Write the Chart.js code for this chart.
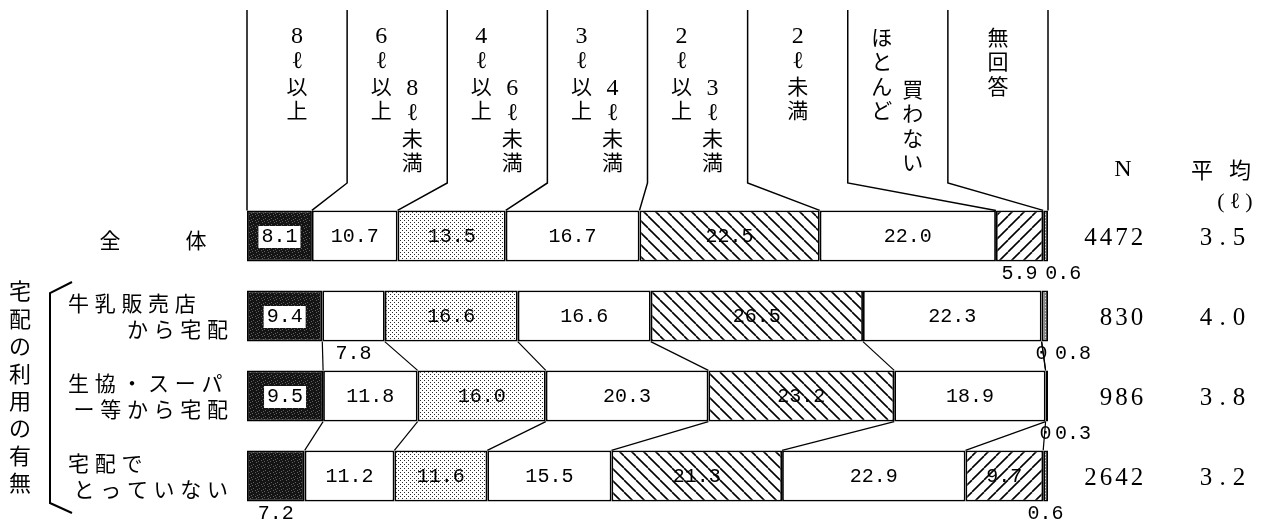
<!DOCTYPE html>
<html><head><meta charset="utf-8">
<script src="https://cdn.jsdelivr.net/npm/chart.js@4"></script>
<style>html,body{margin:0;padding:0;background:#fff;}#wrap{width:1270px;height:521px;position:relative;}</style>
</head><body><div id="wrap"><canvas id="c" width="1270" height="521"></canvas></div>
<script>
// ---------- data ----------
const categories = ['全体', '牛乳販売店から宅配', '生協・スーパー等から宅配', '宅配でとっていない'];
const categoryLines = [['全', '体'], ['牛乳販売店', 'から宅配'], ['生協・スーパ', 'ー等から宅配'], ['宅配で', 'とっていない']];
const groupLabel = '宅配の利用の有無';
const seriesNames = ['8ℓ以上', '6ℓ以上8ℓ未満', '4ℓ以上6ℓ未満', '3ℓ以上4ℓ未満', '2ℓ以上3ℓ未満', '2ℓ未満', 'ほとんど買わない', '無回答'];
const seriesHeader = [['8ℓ以上'], ['6ℓ以上', '8ℓ未満'], ['4ℓ以上', '6ℓ未満'], ['3ℓ以上', '4ℓ未満'], ['2ℓ以上', '3ℓ未満'], ['2ℓ未満'], ['ほとんど', '買わない'], ['無回答']];
const v8plus    = [8.1, 9.4, 9.5, 7.2];
const v6to8     = [10.7, 7.8, 11.8, 11.2];
const v4to6     = [13.5, 16.6, 16.0, 11.6];
const v3to4     = [16.7, 16.6, 20.3, 15.5];
const v2to3     = [22.5, 26.5, 23.2, 21.3];
const vUnder2   = [22.0, 22.3, 18.9, 22.9];
const vRarely   = [5.9, 0.0, 0.0, 9.7];
const vNoAnswer = [0.6, 0.8, 0.3, 0.6];
const nValues   = ['4472', '830', '986', '2642'];
const avgValues = ['3.5', '4.0', '3.8', '3.2'];
const nHeader = 'N';
const avgHeader = ['平均', '(ℓ)'];

const seriesValues = [v8plus, v6to8, v4to6, v3to4, v2to3, vUnder2, vRarely, vNoAnswer];

// ---------- patterns ----------
const canvas = document.getElementById('c');
const ctx = canvas.getContext('2d');
function tile(w, h, fn) {
  const c = document.createElement('canvas'); c.width = w; c.height = h;
  const g = c.getContext('2d'); fn(g, w, h);
  return ctx.createPattern(c, 'repeat');
}
const darkFill = tile(6, 6, (g, w, h) => {
  g.fillStyle = '#141414'; g.fillRect(0, 0, w, h);
  g.fillStyle = '#5e5e5e';
  [[1,2],[4,0],[3,4],[0,5],[5,3]].forEach(p => g.fillRect(p[0], p[1], 1, 1));
});
const dotFill = tile(4, 4, (g, w, h) => {
  g.fillStyle = '#fff'; g.fillRect(0, 0, w, h);
  g.fillStyle = '#2a2a2a';
  g.fillRect(0, 0, 1, 1); g.fillRect(2, 2, 1, 1);
});
function hatch(dir) {
  return tile(12, 12, (g, w, h) => {
    g.fillStyle = '#fff'; g.fillRect(0, 0, w, h);
    g.strokeStyle = '#000'; g.lineWidth = 1.6;
    for (const k of [-w, 0, w]) {
      g.beginPath();
      if (dir === 'back') { g.moveTo(k, 0); g.lineTo(k + w, h); }
      else { g.moveTo(k, h); g.lineTo(k + w, 0); }
      g.stroke();
    }
  });
}
const grayFill = tile(3, 3, (g, w, h) => {
  g.fillStyle = '#8a8a8a'; g.fillRect(0, 0, w, h);
  g.fillStyle = '#e0e0e0'; g.fillRect(1, 1, 1, 1);
});
const fills = [darkFill, '#fff', dotFill, '#fff', hatch('back'), '#fff', hatch('fwd'), grayFill];

// ---------- overlay plugin ----------
const CJK = '"Noto Sans CJK JP", sans-serif';
const SERIF = '"Liberation Serif", serif';
const MONO = '"Liberation Mono", monospace';
function fmt(v) { return v === 0 ? '0' : v.toFixed(1); }
function isLatin(ch) { return /[0-9.()ℓ]/.test(ch); }

const outsideLabels = { '0-6': 'center', '0-7': 'start', '1-1': 'center', '1-6': 'center', '1-7': 'after',
                        '2-6': 'center', '2-7': 'after', '3-0': 'center', '3-7': 'center' };

const overlay = {
  id: 'overlay',
  afterDatasetsDraw(chart) {
    const c = chart.ctx, area = chart.chartArea;
    const nR = categories.length, nS = seriesValues.length;
    const el = (s, r) => chart.getDatasetMeta(s).data[r];
    const top = r => el(0, r).y - el(0, r).height / 2;
    const bot = r => el(0, r).y + el(0, r).height / 2;
    c.save();
    c.strokeStyle = '#000'; c.fillStyle = '#000';

    // header leader lines
    const colW = (area.right - area.left) / nS;
    c.lineWidth = 1.5;
    for (let i = 0; i <= nS; i++) {
      const xc = area.left + i * colW;
      const bx = i === 0 ? el(0, 0).base : el(i - 1, 0).x;
      c.beginPath(); c.moveTo(xc, 10); c.lineTo(xc, 183); c.lineTo(bx, top(0)); c.stroke();
    }
    // header vertical text
    c.textAlign = 'center'; c.textBaseline = 'middle';
    const drawVert = (txt, x, y0, pitch) => {
      [...txt].forEach((ch, k) => {
        c.font = isLatin(ch) ? '24px ' + SERIF : '21px ' + CJK;
        c.fillText(ch, x, y0 + k * pitch);
      });
    };
    seriesHeader.forEach((parts, i) => {
      const left = area.left + i * colW;
      if (parts.length === 1) drawVert(parts[0], left + colW * 0.5, 37, 24.5);
      else { drawVert(parts[0], left + 34, 37, 24.5); drawVert(parts[1], left + 65, 89, 24.5); }
    });

    // connecting lines between grouped rows
    c.lineWidth = 1.2;
    for (let r = 1; r < nR - 1; r++) {
      for (let s = 0; s < nS - 1; s++) {
        c.beginPath(); c.moveTo(el(s, r).x, bot(r)); c.lineTo(el(s, r + 1).x, top(r + 1)); c.stroke();
      }
    }

    // value labels
    c.font = '20px ' + MONO;
    for (let r = 0; r < nR; r++) {
      for (let s = 0; s < nS; s++) {
        const e = el(s, r), txt = fmt(seriesValues[s][r]);
        const mode = outsideLabels[r + '-' + s];
        if (mode) {
          const y = bot(r) + 12;
          if (mode === 'center') { c.textAlign = 'center'; c.fillText(txt, (e.base + e.x) / 2, y); }
          else if (mode === 'start') { c.textAlign = 'left'; c.fillText(txt, e.base + 2, y); }
          else { c.textAlign = 'left'; c.fillText(txt, e.x + 7, y); }
        } else {
          const cx = (e.base + e.x) / 2, cy = e.y + 1;
          c.textAlign = 'center';
          if (s === 0) {
            const w = c.measureText(txt).width + 6;
            c.fillStyle = '#fff'; c.fillRect(cx - w / 2, cy - 11, w, 22); c.fillStyle = '#000';
          }
          c.fillText(txt, cx, cy);
        }
      }
    }

    // row labels
    c.font = '21px ' + CJK; c.textAlign = 'center';
    const pitch = 26.7, lx = 68, rx = 228;
    categoryLines.forEach((lines, r) => {
      const cy = el(0, r).y;
      if (r === 0) {
        c.fillText(lines[0], 110, cy + 4); c.fillText(lines[1], 196, cy + 4);
        return;
      }
      [...lines[0]].forEach((ch, k) => c.fillText(ch, lx + 10.5 + k * pitch, cy - 13));
      const l2 = [...lines[1]];
      l2.forEach((ch, k) => c.fillText(ch, rx - 10.5 - (l2.length - 1 - k) * pitch, cy + 13));
    });
    // group label + bracket
    c.font = '22px ' + CJK;
    [...groupLabel].forEach((ch, k) => c.fillText(ch, 20, 291 + k * 27.4));
    c.lineWidth = 2;
    c.beginPath(); c.moveTo(72, 282); c.lineTo(50, 293); c.lineTo(50, 503); c.lineTo(72, 513); c.stroke();

    // right columns
    const spaced = (txt, xFirst, y, p) => [...txt].forEach((ch, k) => c.fillText(ch, xFirst + k * p, y));
    c.font = '24px ' + SERIF; c.textAlign = 'center';
    c.fillText(nHeader, 1123, 170);
    c.font = '22px ' + CJK;
    c.fillText(avgHeader[0][0], 1202, 170); c.fillText(avgHeader[0][1], 1240, 170);
    c.font = '22px ' + SERIF;
    spaced(avgHeader[1], 1221, 202, 14);
    c.font = '25px ' + SERIF;
    for (let r = 0; r < nR; r++) {
      const y = el(0, r).y + 2;
      const t = nValues[r];
      spaced(t, 1137 - (t.length - 1) * 15.5, y, 15.5);
      spaced(avgValues[r], 1206, y, 16.5);
    }
    c.restore();
  }
};

// ---------- chart ----------
new Chart(ctx, {
  type: 'bar',
  data: {
    labels: categories,
    datasets: seriesValues.map((vals, i) => ({
      label: seriesNames[i], data: vals, backgroundColor: fills[i],
      borderColor: '#000', borderWidth: 1.8, borderSkipped: false,
      barPercentage: 0.64, categoryPercentage: 1
    }))
  },
  options: {
    indexAxis: 'y', responsive: false, animation: false,
    layout: { padding: { left: 247, right: 222, top: 196, bottom: 5 } },
    scales: {
      x: { stacked: true, min: 0, max: 100, display: false },
      y: { stacked: true, display: false }
    },
    plugins: { legend: { display: false }, tooltip: { enabled: false } }
  },
  plugins: [overlay]
});
</script></body></html>
